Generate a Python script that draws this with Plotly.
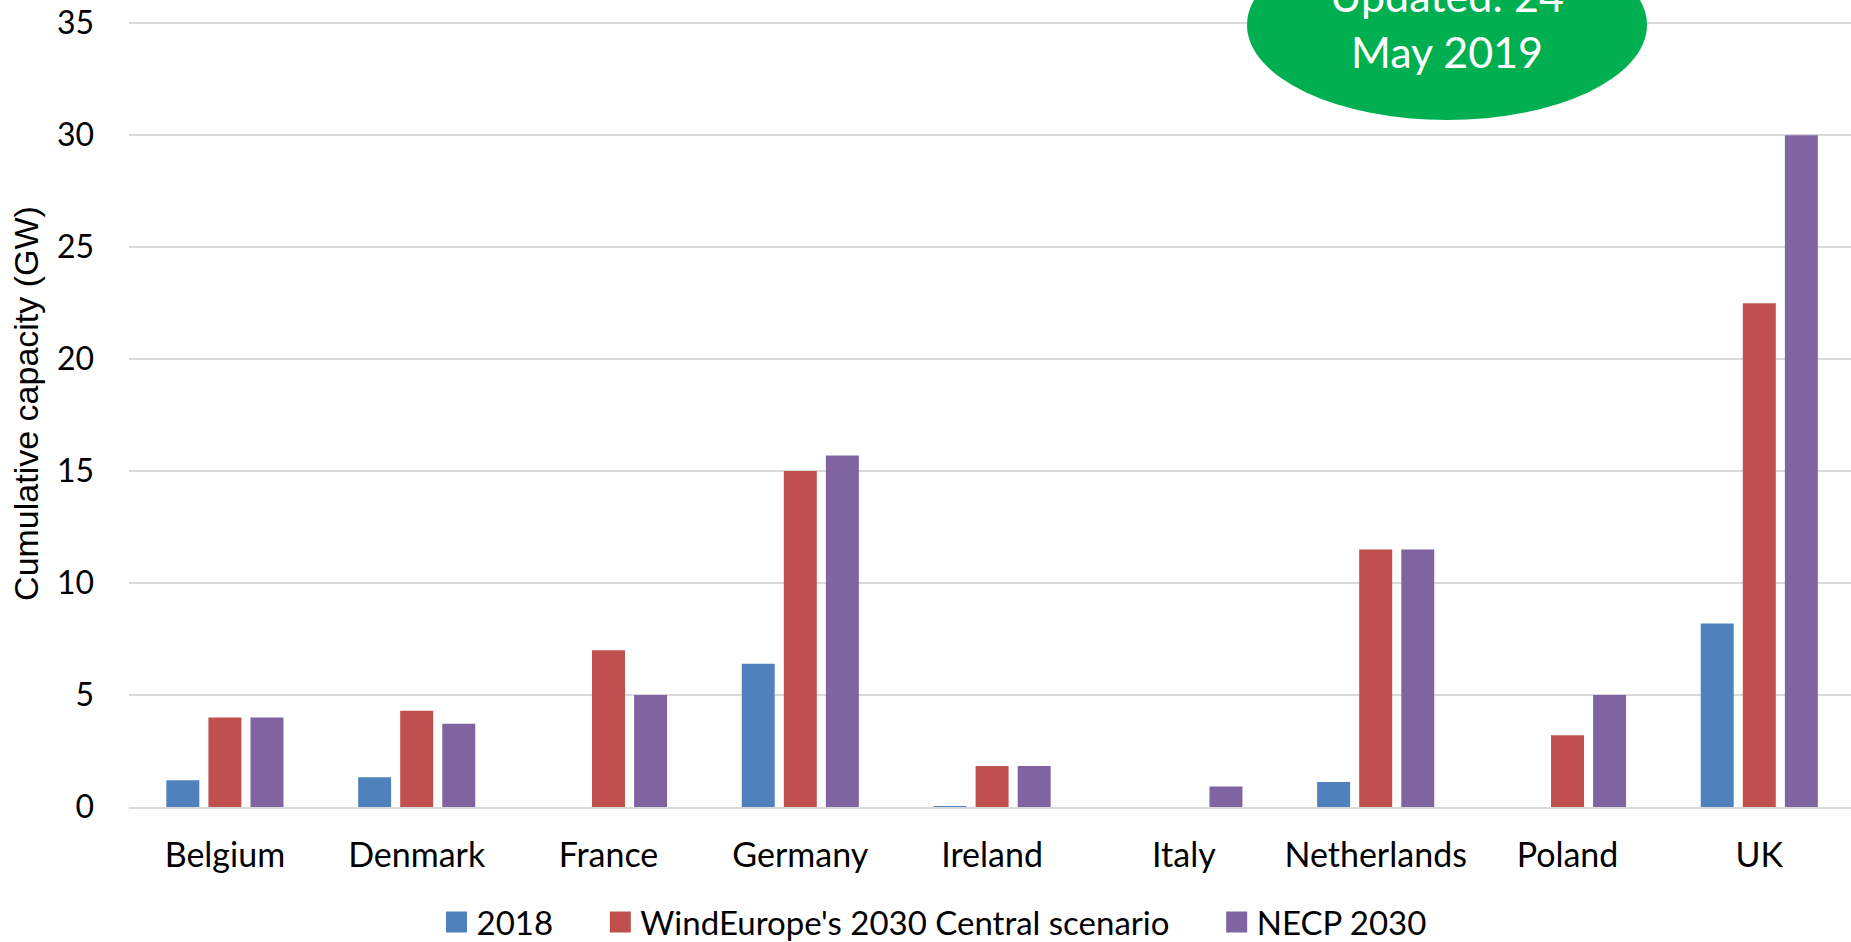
import plotly.graph_objects as go

countries = ["Belgium", "Denmark", "France", "Germany", "Ireland", "Italy", "Netherlands", "Poland", "UK"]
series_names = ["2018", "WindEurope's 2030 Central scenario", "NECP 2030"]
vals_2018 = [1.2, 1.33, 0, 6.4, 0.03, 0, 1.12, 0, 8.2]
vals_windeurope = [4.0, 4.3, 7.0, 15.0, 1.83, 0, 11.5, 3.2, 22.5]
vals_necp = [4.0, 3.72, 5.0, 15.7, 1.83, 0.92, 11.5, 5.0, 30.0]
colors = ["#4F81BD", "#C0504D", "#8064A2"]
y_ticks = [0, 5, 10, 15, 20, 25, 30, 35]

W, H = 1851, 942
L, B = 129, 135
cat_px = 191.8
plot_w = W - L
plot_h = H - B
pad = "\u00a0" * 5

fig = go.Figure()
for i, (name, vals, col) in enumerate(zip(series_names, [vals_2018, vals_windeurope, vals_necp], colors)):
    fig.add_trace(go.Bar(x=countries, y=vals, name=name, marker=dict(color=col, line=dict(width=0)),
                         showlegend=False))
    fig.add_trace(go.Scatter(x=[None], y=[None], name=name + (pad if i < 2 else ""), mode="markers",
                             marker=dict(symbol="square", size=16, color=col,
                                         line=dict(width=5, color=col))))

fig.update_layout(
    width=W, height=H,
    margin=dict(l=L, r=0, t=0, b=B, autoexpand=False),
    plot_bgcolor="white", paper_bgcolor="white",
    barmode="group", bargap=0.342, bargroupgap=0.216,
    font=dict(family="Lato", size=32, color="#000000"),
    xaxis=dict(range=[-0.5, -0.5 + plot_w / cat_px], showgrid=False, showline=True,
               linecolor="#D9D9D9", linewidth=1.5, ticks="", ticklabelstandoff=17,
               automargin=False, tickfont=dict(family="Lato", size=34)),
    yaxis=dict(range=[0, 36.04], tickvals=y_ticks, showgrid=True, gridcolor="#D9D9D9",
               gridwidth=1.5, zeroline=False, showline=False, ticks="",
               ticklabelstandoff=34, automargin=False, tickfont=dict(family="Lato", size=32),
               title=dict(text="Cumulative capacity (GW)",
                          font=dict(family="Liberation Sans", size=34), standoff=7)),
    legend=dict(orientation="h", xref="container", x=934 / W, xanchor="center",
                yref="container", y=1 - 922 / H, yanchor="middle",
                font=dict(family="Lato", size=33), itemsizing="trace"),
    shapes=[dict(type="circle", xref="paper", yref="paper",
                 x0=(1247 - L) / plot_w, x1=(1647 - L) / plot_w,
                 y0=(plot_h - 120) / plot_h, y1=(plot_h + 70) / plot_h,
                 fillcolor="#00B050", line=dict(width=0), layer="above")],
    annotations=[dict(text="Updated: 24<br>May 2019", xref="paper", yref="paper",
                      x=(1447 - L) / plot_w, y=(plot_h - 24) / plot_h,
                      xanchor="center", yanchor="middle", showarrow=False,
                      font=dict(family="Lato", size=43, color="white"))],
)

fig.write_html("out.html", config={"displayModeBar": False},
               post_script="document.body.style.margin='0';document.body.style.overflow='hidden';")
